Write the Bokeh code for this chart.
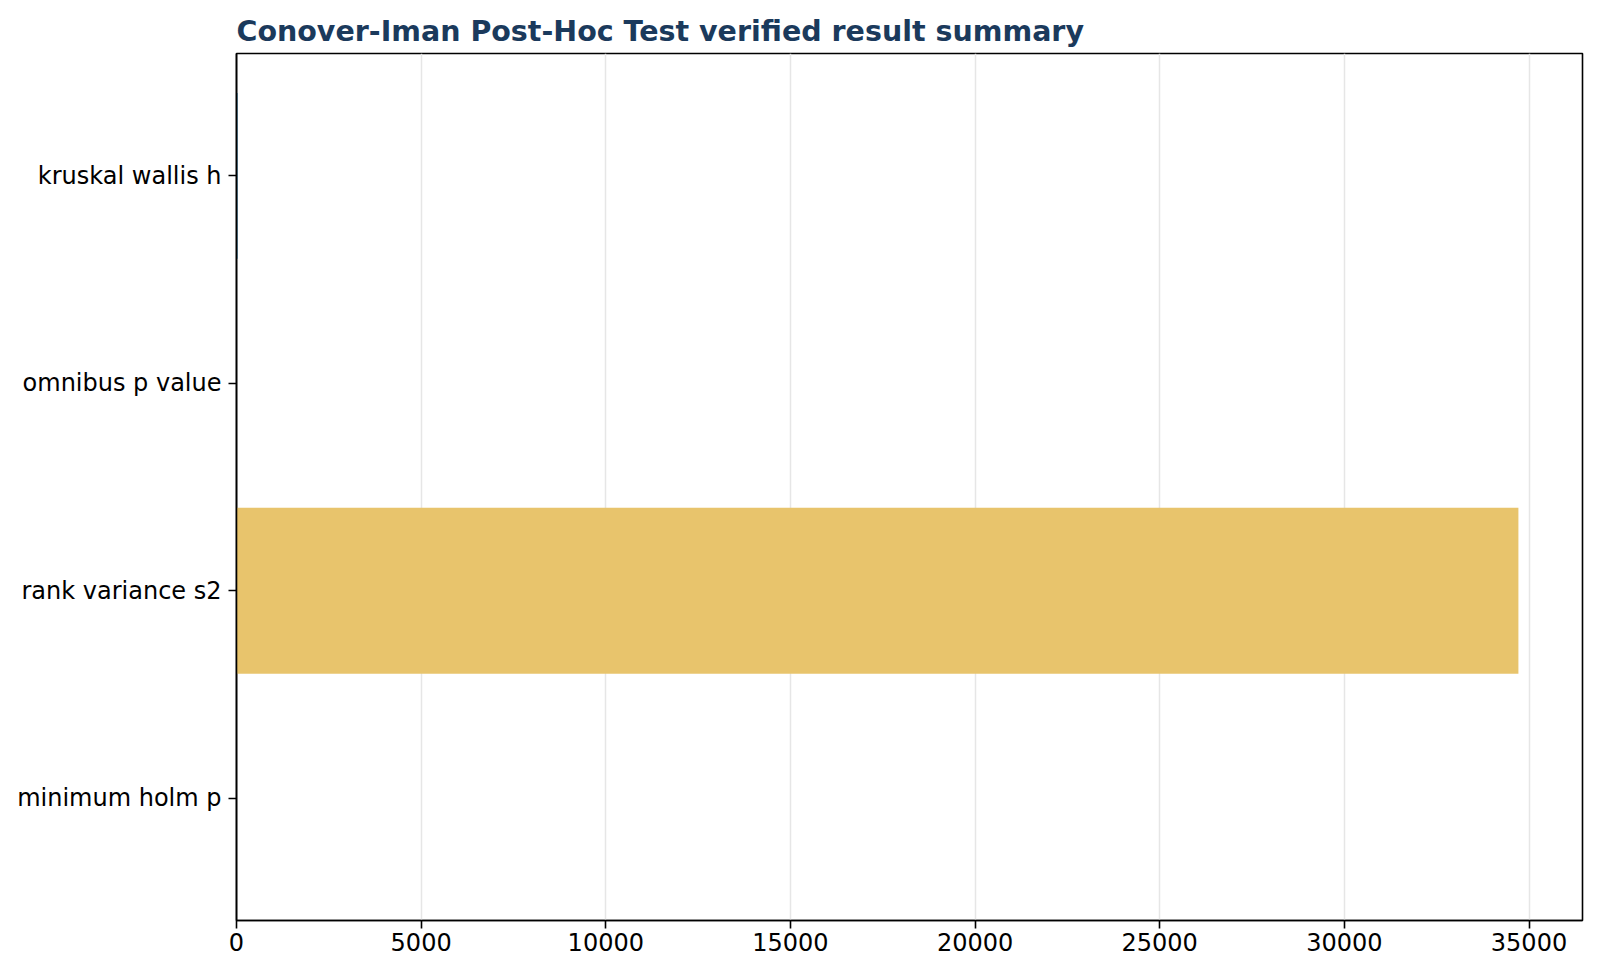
from bokeh.plotting import figure
from bokeh.models import ColumnDataSource, FactorRange, Range1d, FixedTicker
from bokeh.embed import file_html
from bokeh.resources import INLINE

# summary values, top to bottom as in the chart
metrics = ["kruskal wallis h", "omnibus p value", "rank variance s2", "minimum holm p"]
values = [30.0, 0.0002, 34713.0, 0.0001]
colors = ["#2E6F95", "#5B8DB8", "#E8C46C", "#E07A5F"]
x_ticks = [0, 5000, 10000, 15000, 20000, 25000, 30000, 35000]

src = ColumnDataSource(data=dict(metric=metrics, value=values, color=colors))

# bokeh stacks factors bottom-up, so reverse to keep kruskal on top
yr = FactorRange(factors=metrics[::-1], range_padding=0.045, range_padding_units="percent")

p = figure(width=1584, height=962, y_range=yr, x_range=Range1d(0, max(values) * 1.05),
           output_backend="svg", toolbar_location=None,
           title="Conover-Iman Post-Hoc Test verified result summary")
p.min_border_left = 236
p.min_border_right = 2
p.min_border_top = 53
p.min_border_bottom = 42
p.frame_width = 1346
p.frame_height = 867

p.hbar(y="metric", right="value", left=0, height=0.8, color="color", line_color=None, source=src)

p.title.text_font = "DejaVu Sans"
p.title.text_font_size = "28.5px"
p.title.text_font_style = "bold"
p.title.text_color = "#1B3A5C"
p.title.align = "left"
p.title.standoff = 11

p.outline_line_color = "black"
p.outline_line_width = 1.6

for ax in (p.xaxis[0], p.yaxis[0]):
    ax.axis_line_color = "black"
    ax.axis_line_width = 1.6
    ax.major_tick_line_color = "black"
    ax.major_tick_line_width = 1.6
    ax.major_tick_out = 8
    ax.major_tick_in = 0
    ax.minor_tick_line_color = None
    ax.major_label_text_font = "DejaVu Sans"
    ax.major_label_text_font_size = "24px"
    ax.major_label_text_color = "black"
    ax.major_label_standoff = 7

p.xaxis.major_label_standoff = 4
p.xaxis.ticker = FixedTicker(ticks=x_ticks)
p.xaxis.formatter.use_scientific = False

p.xgrid.ticker = FixedTicker(ticks=x_ticks)
p.xgrid.grid_line_color = "#E6E6E6"
p.xgrid.grid_line_width = 1.5
p.ygrid.grid_line_color = None

open("out.html", "w").write(file_html(p, INLINE))
